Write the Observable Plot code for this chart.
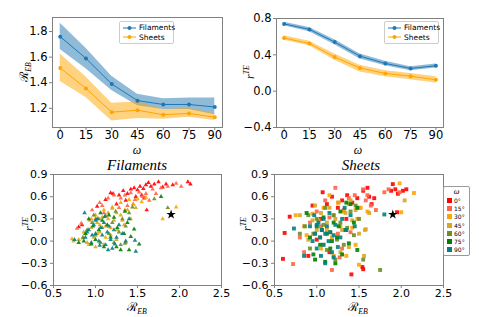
<!DOCTYPE html>
<html><head><meta charset="utf-8">
<script src="https://cdn.jsdelivr.net/npm/d3@7"></script>
<script src="https://cdn.jsdelivr.net/npm/@observablehq/plot@0.6"></script>
<style>
html,body{margin:0;padding:0;background:#fff;}
#fig{position:relative;width:479px;height:317px;overflow:hidden;background:#fff;font-family:"DejaVu Sans",sans-serif;}
.pn{position:absolute;}
.lab{position:absolute;transform:translate(-50%,-50%);white-space:nowrap;font-family:"Liberation Serif","DejaVu Serif",serif;font-style:italic;color:#000;line-height:1;}
.ylab{transform:translate(-50%,-50%) rotate(-90deg);}
.leg{position:absolute;border:1px solid #ccc;border-radius:2px;background:#fff;font-size:7.5px;}
.legrow{position:absolute;left:3px;display:flex;align-items:center;gap:3px;}
sub,sup{font-size:65%;line-height:0;}
</style>
</head><body>
<div id="fig"></div>
<script>
// ---- top panels data ----
const omega = [0, 15, 30, 45, 60, 75, 90];
const filREB   = [1.76, 1.59, 1.39, 1.26, 1.23, 1.23, 1.21];
const filREBlo = [1.66, 1.51, 1.34, 1.22, 1.19, 1.19, 1.15];
const filREBhi = [1.865, 1.67, 1.45, 1.31, 1.275, 1.28, 1.28];
const sheREB   = [1.515, 1.355, 1.17, 1.185, 1.15, 1.16, 1.13];
const sheREBlo = [1.41, 1.285, 1.10, 1.12, 1.115, 1.13, 1.105];
const sheREBhi = [1.625, 1.445, 1.24, 1.25, 1.19, 1.20, 1.16];
const filRTE   = [0.74, 0.68, 0.54, 0.385, 0.305, 0.25, 0.28];
const filRTElo = [0.72, 0.655, 0.51, 0.355, 0.28, 0.225, 0.255];
const filRTEhi = [0.76, 0.70, 0.565, 0.41, 0.33, 0.27, 0.30];
const sheRTE   = [0.585, 0.525, 0.375, 0.255, 0.195, 0.165, 0.125];
const sheRTElo = [0.56, 0.50, 0.34, 0.21, 0.16, 0.125, 0.09];
const sheRTEhi = [0.61, 0.55, 0.41, 0.285, 0.225, 0.195, 0.16];
const seriesNames = ["Filaments", "Sheets"];
const seriesColors = ["#1f77b4", "#ffa500"];
const omegaTicks = [0, 15, 30, 45, 60, 75, 90];
const reTicks = [1.2, 1.4, 1.6, 1.8];
const rteTopTicks = [-0.4, 0.0, 0.4, 0.8];

// ---- scatter data (R_EB, r_TE) per omega ----
const angleLabels = ["0°", "15°", "30°", "45°", "60°", "75°", "90°"];
const angleColors = ["#ff0000", "#ff6347", "#ffa500", "#daa520", "#6b8e23", "#008000", "#008080"];
const fil0 = [[0.80,0.19],[0.84,0.22],[1.02,0.47],[1.18,0.65],[1.21,0.64],[1.28,0.62],[1.33,0.68],[1.38,0.64],[1.42,0.70],[1.46,0.72],[1.50,0.69],[1.53,0.74],[1.57,0.71],[1.60,0.76],[1.63,0.79],[1.66,0.74],[1.70,0.77],[1.75,0.80],[1.80,0.73],[1.84,0.77],[1.92,0.76],[2.10,0.80],[2.13,0.77],[1.61,0.42],[1.58,0.58],[1.55,0.62],[1.48,0.60],[1.36,0.55],[1.12,0.56],[1.25,0.50]];
const fil15 = [[0.78,0.17],[0.83,0.24],[0.96,0.42],[1.05,0.52],[1.08,0.48],[1.15,0.58],[1.22,0.62],[1.30,0.58],[1.35,0.62],[1.42,0.65],[1.47,0.56],[1.52,0.66],[1.56,0.60],[1.60,0.64],[1.64,0.55],[1.68,0.70],[1.72,0.64],[1.78,0.72],[1.86,0.74],[1.96,0.78],[2.02,0.74],[1.45,0.50],[1.38,0.48],[1.28,0.45],[1.10,0.38],[1.00,0.30]];
const fil30 = [[0.72,0.03],[0.74,0.00],[0.88,0.10],[0.95,0.30],[1.00,0.35],[1.05,0.22],[1.10,0.42],[1.15,0.30],[1.20,0.46],[1.25,0.38],[1.30,0.52],[1.35,0.42],[1.40,0.56],[1.45,0.50],[1.50,0.57],[1.55,0.53],[1.60,0.59],[1.80,0.30],[1.96,0.46],[0.92,-0.05],[1.02,0.10],[1.18,0.18],[1.32,0.28],[0.85,0.04],[1.12,0.05]];
const fil45 = [[0.80,0.02],[0.86,0.12],[0.90,-0.02],[0.95,0.18],[0.98,0.05],[1.02,0.25],[1.05,0.12],[1.08,0.32],[1.12,0.20],[1.15,0.38],[1.18,0.08],[1.22,0.28],[1.26,0.15],[1.30,0.35],[1.34,0.22],[1.38,0.42],[1.42,0.30],[1.48,0.45],[1.10,-0.05],[0.93,0.28],[1.25,0.02],[1.20,0.44],[1.36,-0.02],[1.00,-0.08]];
const fil60 = [[0.85,0.05],[0.90,0.15],[0.96,0.25],[1.00,0.08],[1.04,0.30],[1.08,0.18],[1.12,0.34],[1.16,0.10],[1.20,0.25],[1.24,0.40],[1.28,0.12],[1.32,0.30],[1.36,0.20],[1.40,0.38],[1.30,-0.05],[1.22,-0.02],[1.70,0.57],[1.86,0.45],[1.44,0.46],[1.06,-0.02],[1.35,-0.03],[0.98,0.35]];
const fil75 = [[0.80,-0.02],[0.88,0.10],[0.92,0.30],[0.97,0.20],[1.00,0.02],[1.04,0.15],[1.08,0.28],[1.10,-0.08],[1.14,0.22],[1.18,0.05],[1.22,0.32],[1.26,0.18],[1.30,-0.12],[1.34,0.10],[1.38,0.25],[1.42,0.06],[1.46,0.16],[1.52,-0.04],[1.40,-0.12],[1.78,0.60],[1.06,0.38],[1.25,-0.08],[0.95,-0.04],[1.16,0.35],[1.35,0.40],[0.86,0.00]];
const fil90 = [[0.75,0.02],[0.87,0.38],[0.88,0.05],[0.92,0.15],[0.95,-0.02],[0.98,0.22],[1.00,0.10],[1.02,0.30],[1.04,0.00],[1.06,0.18],[1.08,0.08],[1.10,0.25],[1.12,-0.05],[1.14,0.12],[1.16,0.20],[1.18,0.02],[1.20,-0.10],[1.22,0.15],[1.25,0.05],[1.28,0.22],[1.32,0.10],[1.36,0.00],[1.48,-0.14],[1.47,0.01],[1.00,0.28],[0.96,0.08],[1.11,0.33],[1.05,-0.06],[1.15,-0.12],[0.90,0.12],[1.23,-0.04],[1.40,0.30]];
const she0 = [[0.60,-0.24],[0.62,0.11],[0.68,0.33],[0.90,-0.20],[0.95,0.48],[1.07,0.66],[1.00,0.02],[1.12,0.50],[1.18,0.60],[1.25,0.45],[1.30,0.55],[1.36,0.62],[1.42,0.52],[1.48,0.58],[1.55,0.68],[1.60,0.72],[1.62,0.60],[1.41,-0.45],[1.55,-0.38],[1.54,-0.35],[1.88,0.68],[1.90,0.77],[1.93,0.70],[1.96,0.64],[2.02,0.68],[2.06,0.70],[1.95,0.39],[1.65,0.50],[1.05,0.30],[1.15,-0.15],[1.68,0.58],[1.35,0.30]];
const she15 = [[0.72,-0.31],[0.85,-0.15],[0.92,0.25],[1.00,0.40],[1.05,0.20],[1.10,0.55],[1.18,-0.39],[1.22,0.72],[1.25,0.10],[1.30,-0.10],[1.32,0.42],[1.38,0.58],[1.45,0.62],[1.50,0.45],[1.55,0.70],[1.58,0.55],[1.64,0.48],[1.70,0.42],[1.80,0.66],[1.85,0.70],[1.98,0.66],[1.15,0.32],[1.40,0.12],[0.80,0.05],[1.60,0.62],[1.27,-0.22]];
const she30 = [[0.75,0.35],[0.95,0.37],[0.98,0.10],[1.02,0.28],[1.08,0.45],[1.12,0.15],[1.15,0.62],[1.20,0.35],[1.25,0.52],[1.28,0.20],[1.32,0.40],[1.38,0.50],[1.42,0.18],[1.46,-0.05],[1.50,-0.32],[1.52,0.45],[1.57,0.15],[1.60,0.40],[1.98,0.78],[2.00,0.39],[2.15,0.65],[0.88,0.08],[1.35,-0.20],[1.48,0.30],[1.05,-0.10]];
const she45 = [[0.80,0.35],[0.85,0.20],[0.90,0.02],[0.95,0.28],[1.00,0.15],[1.05,0.38],[1.08,-0.05],[1.12,0.25],[1.15,0.45],[1.18,0.05],[1.22,0.30],[1.26,0.52],[1.30,0.15],[1.34,0.38],[1.38,-0.08],[1.42,0.28],[1.46,0.42],[1.50,0.10],[1.56,-0.20],[1.58,0.16],[1.62,0.38],[2.04,0.55],[1.20,-0.20],[0.98,0.48],[1.40,0.55],[1.28,-0.15]];
const she60 = [[0.80,0.10],[0.86,0.20],[0.92,-0.10],[0.96,0.10],[1.00,0.30],[1.04,0.05],[1.08,0.22],[1.12,-0.12],[1.16,0.12],[1.20,0.35],[1.24,0.02],[1.28,0.25],[1.32,-0.05],[1.36,0.18],[1.40,0.40],[1.44,0.08],[1.50,0.30],[1.55,-0.25],[1.75,-0.39],[1.10,0.45],[0.90,0.35],[1.22,-0.25],[1.46,0.48]];
const she75 = [[0.88,0.38],[0.92,0.05],[0.96,-0.18],[1.00,0.20],[1.04,-0.05],[1.08,0.32],[1.10,-0.28],[1.12,0.10],[1.16,-0.10],[1.20,0.25],[1.24,0.05],[1.28,0.40],[1.30,-0.18],[1.34,0.15],[1.38,-0.03],[1.40,0.50],[1.44,0.25],[1.48,0.45],[1.48,-0.12],[1.22,-0.30],[1.06,0.15],[1.35,0.52],[1.18,0.00],[0.98,-0.25],[1.26,0.20]];
const she90 = [[0.73,0.17],[0.85,-0.20],[0.92,0.20],[0.95,0.00],[0.98,0.10],[1.00,-0.10],[1.02,0.25],[1.04,0.05],[1.06,0.15],[1.08,-0.05],[1.10,0.10],[1.10,-0.30],[1.12,0.20],[1.14,0.00],[1.16,0.12],[1.18,-0.15],[1.20,0.08],[1.22,0.22],[1.25,-0.08],[1.28,0.05],[1.30,0.30],[1.35,0.15],[1.40,0.35],[1.05,-0.20],[0.97,0.35],[1.15,0.38],[1.45,0.20],[1.80,0.36],[1.33,0.45],[1.00,0.22],[1.20,-0.22],[1.08,0.30]];
const starPoint = [1.90, 0.36];
const rebTicks = [0.5, 1.0, 1.5, 2.0, 2.5];
const rteTicks = [-0.6, -0.3, 0.0, 0.3, 0.6, 0.9];

// ---- build tables ----
function bandTable(mid, lo, hi, name) {
  return omega.map((w, i) => ({w, v: mid[i], lo: lo[i], hi: hi[i], s: name}));
}
function scatterTable(groups) {
  const out = [];
  groups.forEach((g, k) => g.forEach(([R, r]) => out.push({R, r, a: angleLabels[k]})));
  return out;
}
const topL = [bandTable(filREB, filREBlo, filREBhi, "Filaments"), bandTable(sheREB, sheREBlo, sheREBhi, "Sheets")];
const topR = [bandTable(filRTE, filRTElo, filRTEhi, "Filaments"), bandTable(sheRTE, sheRTElo, sheRTEhi, "Sheets")];
const filRows = scatterTable([fil0, fil15, fil30, fil45, fil60, fil75, fil90]);
const sheRows = scatterTable([she0, she15, she30, she45, she60, she75, she90]);
const starRows = [{R: starPoint[0], r: starPoint[1]}];

const fig = document.getElementById("fig");
const AX = "#808080";
const baseStyle = {fontSize: "11.5px", fontFamily: "DejaVu Sans, sans-serif", background: "transparent", color: "#000", overflow: "visible"};
const scatStyle = Object.assign({}, baseStyle, {fontSize: "11px"});

function place(el, left, top) {
  el.classList.add("pn");
  el.style.left = left + "px"; el.style.top = top + "px";
  fig.appendChild(el);
}

function topPanel(tables, yDomain, yTicks, yFmt, m, w, h) {
  const marks = [];
  tables.forEach((t, i) => {
    marks.push(Plot.areaY(t, {x: "w", y1: "lo", y2: "hi", fill: seriesColors[i], fillOpacity: 0.5, curve: "linear"}));
  });
  tables.forEach((t, i) => {
    marks.push(Plot.lineY(t, {x: "w", y: "v", stroke: seriesColors[i], strokeWidth: 1}));
    marks.push(Plot.dot(t, {x: "w", y: "v", fill: seriesColors[i], r: 2}));
  });
  marks.push(Plot.frame({stroke: AX, strokeWidth: 1}));
  marks.push(Plot.axisX({ticks: omegaTicks, tickSize: 3, tickPadding: 0, stroke: AX, label: null, fill: "#000"}));
  marks.push(Plot.axisY({ticks: yTicks, tickSize: 3, tickPadding: 2, stroke: AX, label: null, tickFormat: yFmt, fill: "#000"}));
  return Plot.plot({
    width: w, height: h,
    marginLeft: m[0], marginRight: m[1], marginTop: m[2], marginBottom: m[3],
    x: {domain: [-4.5, 94.5]},
    y: {domain: yDomain},
    style: baseStyle,
    marks
  });
}

function scatterPanel(rows, symbol, m, w, h) {
  return Plot.plot({
    width: w, height: h,
    marginLeft: m[0], marginRight: m[1], marginTop: m[2], marginBottom: m[3],
    x: {domain: [0.5, 2.5]},
    y: {domain: [-0.6, 0.9]},
    color: {domain: angleLabels, range: angleColors},
    style: scatStyle,
    marks: [
      Plot.dot(rows, {x: "R", y: "r", fill: "a", symbol: () => symbol, r: symbol === "square" ? 2.2 : 1.7, fillOpacity: 0.9}),
      Plot.dot(starRows, {x: "R", y: "r", fill: "black", symbol: "star", r: 3}),
      Plot.frame({stroke: AX, strokeWidth: 1}),
      Plot.axisX({ticks: rebTicks, tickSize: 3, tickPadding: 1, stroke: AX, label: null, tickFormat: d3.format(".1f"), fill: "#000"}),
      Plot.axisY({ticks: rteTicks, tickSize: 3, tickPadding: 3, stroke: AX, label: null, tickFormat: d3.format(".1f"), fill: "#000"})
    ]
  });
}

const f1 = d3.format(".1f");
place(topPanel(topL, [1.05, 1.91], reTicks, f1, [52, 18, 17, 33], 240, 160), 0, 0);
place(topPanel(topR, [-0.4, 0.8], rteTopTicks, f1, [36, 36, 18, 33], 239, 160), 240, 0);
place(scatterPanel(filRows, "triangle", [53, 19, 24, 32], 240, 167), 0, 150);
place(scatterPanel(sheRows, "square", [34, 36, 24, 32], 239, 167), 240, 150);

// ---- text labels ----
function lab(html, x, y, size, rot) {
  const d = document.createElement("div");
  d.className = "lab" + (rot ? " ylab" : "");
  d.innerHTML = html;
  d.style.left = x + "px"; d.style.top = y + "px"; d.style.fontSize = size + "px";
  fig.appendChild(d);
}
const REB = '<span style="font-style:normal;font-family:DejaVu Serif">ℛ</span><sub>EB</sub>';
const RTE = 'r<sup>TE</sup>';
lab("ω", 137, 149.5, 12);
lab("ω", 358, 149.5, 12);
lab(REB, 24, 72, 12, true);
lab(RTE, 250, 72, 12, true);
lab(REB, 137, 307, 12);
lab(REB, 358, 307, 12);
lab(RTE, 29, 224, 12, true);
lab(RTE, 247, 224, 12, true);
lab(seriesNames[0], 137, 164.5, 15);
lab(seriesNames[1], 361, 164.5, 15);

// ---- series legends (top) ----
function seriesLegend(x, y) {
  const L = document.createElement("div");
  L.className = "leg";
  Object.assign(L.style, {left: x + "px", top: y + "px", width: "53px", height: "21px"});
  seriesNames.forEach((n, i) => {
    const row = document.createElement("div");
    row.className = "legrow";
    row.style.top = (1 + i * 9.5) + "px";
    row.innerHTML = `<svg width="13" height="8"><line x1="0" y1="4" x2="13" y2="4" stroke="${seriesColors[i]}" stroke-width="1"/><circle cx="6.5" cy="4" r="2" fill="${seriesColors[i]}"/></svg><span>${n}</span>`;
    L.appendChild(row);
  });
  fig.appendChild(L);
}
seriesLegend(119, 21);
seriesLegend(384, 21);

// ---- omega legend (scatter) ----
const OL = document.createElement("div");
OL.className = "leg";
Object.assign(OL.style, {left: "443px", top: "186px", width: "25px", height: "68px", fontSize: "6px", borderColor: "#999"});
const tt = document.createElement("div");
Object.assign(tt.style, {position: "absolute", left: "0", width: "25px", top: "0px", textAlign: "center", fontFamily: "Liberation Serif, serif", fontStyle: "italic", fontSize: "8px"});
tt.textContent = "ω";
OL.appendChild(tt);
angleLabels.forEach((a, i) => {
  const row = document.createElement("div");
  row.className = "legrow";
  row.style.top = (10 + i * 8.2) + "px";
  row.style.left = "3px";
  row.style.gap = "2px";
  row.innerHTML = `<span style="display:inline-block;width:5px;height:5px;background:${angleColors[i]}"></span><span>${a}</span>`;
  OL.appendChild(row);
});
fig.appendChild(OL);
</script>
</body></html>
